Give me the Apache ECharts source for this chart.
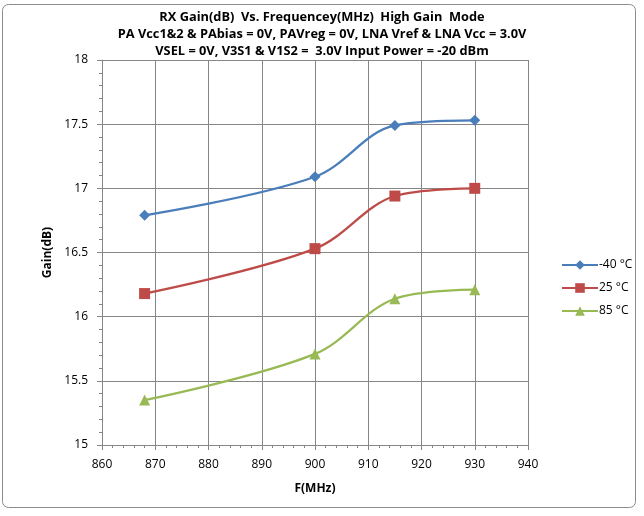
<!DOCTYPE html>
<html><head><meta charset="utf-8">
<script src="https://cdn.jsdelivr.net/npm/echarts@6/dist/echarts.min.js"></script>
<style>html,body{margin:0;padding:0;background:#fff}#c{width:644px;height:516px}</style>
</head><body><div id="c"></div>
<script>
var freq = [868, 900, 915, 930];
var gainM40 = [16.79, 17.09, 17.49, 17.53];
var gain25 = [16.18, 16.53, 16.94, 17.00];
var gain85 = [15.35, 15.71, 16.14, 16.21];
var seriesNames = ['-40 \u00b0C', '25 \u00b0C', '85 \u00b0C'];
var titleLines = ['RX Gain(dB)  Vs. Frequencey(MHz)  High Gain  Mode',
  'PA Vcc1&2 & PAbias = 0V, PAVreg = 0V, LNA Vref & LNA Vcc = 3.0V',
  'VSEL = 0V, V3S1 & V1S2 =  3.0V Input Power = -20 dBm'];

function pts(ys){ return freq.map(function(f,i){ return [f, ys[i]]; }); }
var FONT = '"Open Sans", sans-serif';
var chart = echarts.init(document.getElementById('c'));
chart.setOption({
  animation: false,
  backgroundColor: '#fff',
  graphic: [{type:'rect', shape:{x:2.5,y:4.5,width:633,height:503,r:6}, style:{fill:'none', stroke:'#8c8c8c', lineWidth:1}, z:-1}],
  title: {
    text: titleLines.join('\n'), left: 'center', top: 4,
    textStyle: {fontFamily: FONT, fontSize: 12.8, fontWeight: 'bold', color: '#000', lineHeight: 17}
  },
  legend: {
    orient: 'vertical', left: 556, top: 254, itemGap: 11, itemWidth: 36, itemHeight: 12,
    textStyle: {fontFamily: FONT, fontSize: 12, color: '#000', padding: [0,0,0,-4]},
    data: seriesNames
  },
  grid: {left: 102, right: 116, top: 60, bottom: 71},
  xAxis: {
    type: 'value', min: 860, max: 940, interval: 10,
    name: 'F(MHz)', nameLocation: 'middle', nameGap: 38,
    nameTextStyle: {fontFamily: FONT, fontSize: 12, fontWeight: 'bold', color: '#000'},
    axisLine: {lineStyle: {color: '#868686'}},
    axisTick: {show: true, length: 5, lineStyle: {color: '#868686'}},
    minorTick: {show: true, splitNumber: 5, length: 3, lineStyle: {color: '#868686'}},
    axisLabel: {fontFamily: FONT, fontSize: 12, color: '#000', margin: 14},
    splitLine: {show: true, lineStyle: {color: '#868686', width: 1}}
  },
  yAxis: {
    type: 'value', min: 15, max: 18, interval: 0.5,
    name: 'Gain(dB)', nameLocation: 'middle', nameGap: 44,
    nameTextStyle: {fontFamily: FONT, fontSize: 12, fontWeight: 'bold', color: '#000'},
    axisLine: {show: true, lineStyle: {color: '#868686'}},
    axisTick: {show: true, length: 5, lineStyle: {color: '#868686'}},
    minorTick: {show: true, splitNumber: 5, length: 3, lineStyle: {color: '#868686'}},
    axisLabel: {fontFamily: FONT, fontSize: 12, color: '#000', margin: 14},
    splitLine: {show: true, lineStyle: {color: '#868686', width: 1}}
  },
  series: [
    {name: seriesNames[0], type: 'line', data: pts(gainM40), smooth: 0.35, symbol: 'diamond', symbolSize: 11,
     lineStyle: {width: 2.25, color: '#4A7EBB'}, itemStyle: {color: '#4A7EBB'}},
    {name: seriesNames[1], type: 'line', data: pts(gain25), smooth: 0.35, symbol: 'rect', symbolSize: 11,
     lineStyle: {width: 2.25, color: '#BE4B48'}, itemStyle: {color: '#BE4B48'}},
    {name: seriesNames[2], type: 'line', data: pts(gain85), smooth: 0.35, symbol: 'triangle', symbolSize: 11,
     lineStyle: {width: 2.25, color: '#98B954'}, itemStyle: {color: '#98B954'}}
  ]
});
</script></body></html>
